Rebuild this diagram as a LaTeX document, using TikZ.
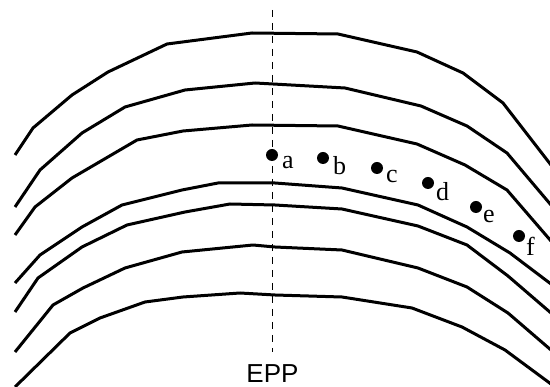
\documentclass[tikz,border=0pt]{standalone}
\usepackage{fontspec}
\setmainfont{Liberation Serif}
\newfontfamily\eppfont{Liberation Sans}
\begin{document}
\begin{tikzpicture}[x=1pt,y=-1pt,
  layer/.style={line width=3pt,line join=round,line cap=butt},
  axisline/.style={dashed,dash pattern=on 7pt off 6pt,line width=0.9pt},
  dot/.style={circle,fill=black,inner sep=0pt,minimum size=12pt},
  lbl/.style={anchor=base west,inner sep=0pt,font=\fontsize{26}{30}\selectfont},
  axislbl/.style={anchor=base,inner sep=0pt,font=\eppfont\fontsize{26}{30}\selectfont}]
\useasboundingbox (0,0) rectangle (550,387);

% curved layers, outermost first
\draw[layer] (15,155) -- (33,128) -- (72,95) -- (108,72) -- (167,44) -- (252,33)
  -- (338,34) -- (417,52) -- (463,73) -- (503,103) -- (551,165);
\draw[layer] (15,207) -- (40,170) -- (82,133) -- (125,107) -- (185,90) -- (255,83)
  -- (345,88) -- (421,106) -- (467,126) -- (507,153) -- (551,205);
\draw[layer] (15,235) -- (35,207) -- (72,178) -- (137,140) -- (183,131) -- (252,125)
  -- (338,126) -- (417,144) -- (465,165) -- (507,190) -- (551,241);
\draw[layer] (15,283) -- (40,255) -- (82,227) -- (122,205) -- (182,190) -- (218,183)
  -- (275,183) -- (342,188) -- (418,205) -- (467,227) -- (510,253) -- (551,284);
\draw[layer] (15,312) -- (38,278) -- (82,247) -- (127,225) -- (185,212) -- (230,204)
  -- (275,205) -- (342,209) -- (418,226) -- (467,245) -- (508,276) -- (551,313);
\draw[layer] (15,352) -- (53,305) -- (83,288) -- (125,268) -- (182,252) -- (253,245)
  -- (275,247) -- (342,250) -- (418,268) -- (467,287) -- (508,313) -- (551,350);
\draw[layer] (15,387) -- (70,333) -- (100,318) -- (145,302) -- (183,297) -- (240,293)
  -- (275,295) -- (342,297) -- (412,308) -- (462,327) -- (505,350) -- (551,384);

% EPP axis
\coordinate (axtop) at (272,10);
\coordinate (axbot) at (272,352);
\draw[axisline] (axtop) -- (axbot);
\node[axislbl] (epp) at (272.5,383) {EPP};

% sample points
\node[dot] (a) at (272,155) {};
\node[dot] (b) at (323,158) {};
\node[dot] (c) at (377,168) {};
\node[dot] (d) at (428,183) {};
\node[dot] (e) at (476,207) {};
\node[dot] (f) at (519,236) {};
\node[lbl] (la) at (282,169) {a};
\node[lbl] (lb) at (333,175) {b};
\node[lbl] (lc) at (386,183) {c};
\node[lbl] (ld) at (436,201) {d};
\node[lbl] (le) at (483,223) {e};
\node[lbl] (lf) at (526,256) {f};
\end{tikzpicture}
\end{document}
